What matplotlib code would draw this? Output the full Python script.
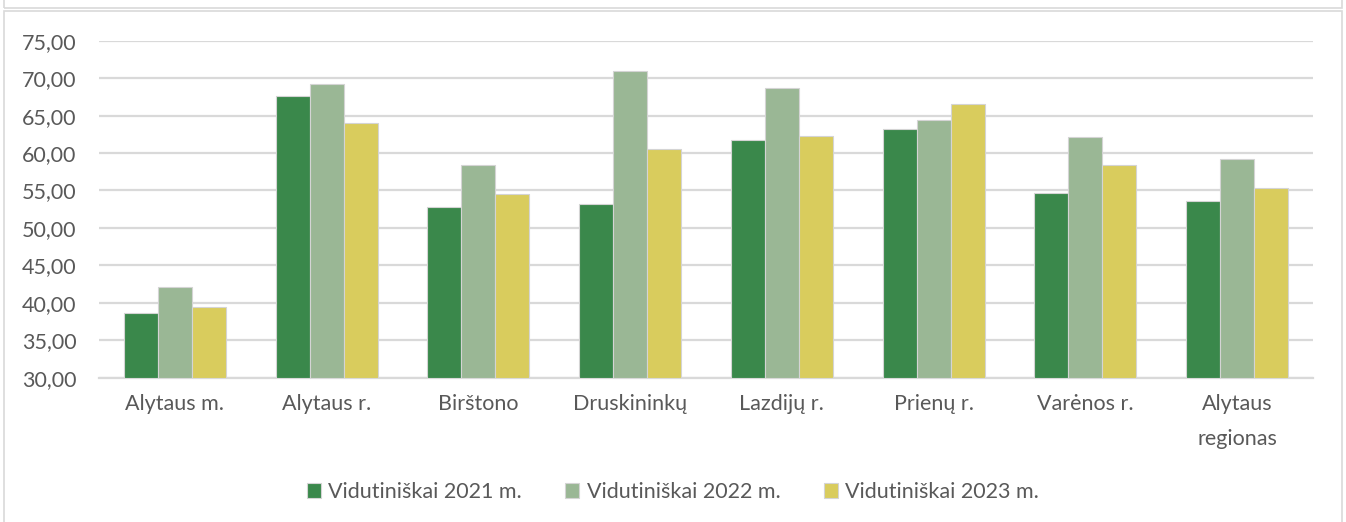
import matplotlib.pyplot as plt
import numpy as np
from matplotlib.patches import Rectangle

categories = ['Alytaus m.', 'Alytaus r.', 'Birštono', 'Druskininkų',
              'Lazdijų r.', 'Prienų r.', 'Varėnos r.', 'Alytaus\nregionas']
v2021 = [38.68, 67.60, 52.75, 53.15, 61.70, 63.20, 54.70, 53.60]
v2022 = [42.10, 69.17, 58.40, 71.00, 68.72, 64.40, 62.20, 59.20]
v2023 = [39.44, 63.96, 54.50, 60.57, 62.27, 66.60, 58.40, 55.30]
series = ['Vidutiniškai 2021 m.', 'Vidutiniškai 2022 m.', 'Vidutiniškai 2023 m.']
colors = ['#3A884B', '#9AB795', '#D9CC5D']
yticks = np.arange(30, 80, 5)

plt.rcParams['font.family'] = ['Lato', 'DejaVu Sans']
txt = '#595959'
fs = 15.5

fig = plt.figure(figsize=(13.46, 5.22), dpi=100)
ax = fig.add_axes([0.0735, 0.2764, 0.902, 0.6456])

# chart border (and bottom edge of the chart above)
fig.patches.append(Rectangle((4 / 1346, -0.01), 1338 / 1346, 1 - 11 / 522 + 0.01,
                             transform=fig.transFigure, fill=False,
                             edgecolor='#d9d9d9', lw=1.2))
fig.patches.append(Rectangle((4 / 1346, 1 - 8 / 522), 1338 / 1346, 0.05,
                             transform=fig.transFigure, fill=False,
                             edgecolor='#d9d9d9', lw=1.2))

x = np.arange(len(categories))
w = 0.224
for i, (vals, lab, c) in enumerate(zip([v2021, v2022, v2023], series, colors)):
    ax.bar(x + (i - 1) * w, np.array(vals) - 30, w, bottom=30, color=c,
           edgecolor='#d4d4d4', linewidth=0.8, label=lab, zorder=3)

ax.set_xlim(-0.5, len(categories) - 0.5)
ax.set_ylim(30, 75)
ax.set_yticks(yticks)
ax.set_yticklabels([f'{t:.2f}'.replace('.', ',') for t in yticks])
ax.set_xticks(x)
ax.set_xticklabels(categories, linespacing=1.9)
ax.yaxis.grid(True, color='#d9d9d9', lw=1.6, zorder=0)
ax.tick_params(axis='both', length=0, labelsize=fs, labelcolor=txt)
ax.tick_params(axis='x', pad=12)
ax.tick_params(axis='y', pad=16)
for s in ['top', 'right', 'left']:
    ax.spines[s].set_visible(False)
ax.spines['bottom'].set_color('#d9d9d9')
ax.spines['bottom'].set_linewidth(1.6)

ax.legend(loc='center', bbox_to_anchor=(0.5, 30 / 522), bbox_transform=fig.transFigure,
          ncol=3, frameon=False, fontsize=fs, labelcolor=txt,
          handlelength=0.65, handleheight=0.65, handletextpad=0.35, columnspacing=2.0)

fig.savefig('out.png', dpi=100)
